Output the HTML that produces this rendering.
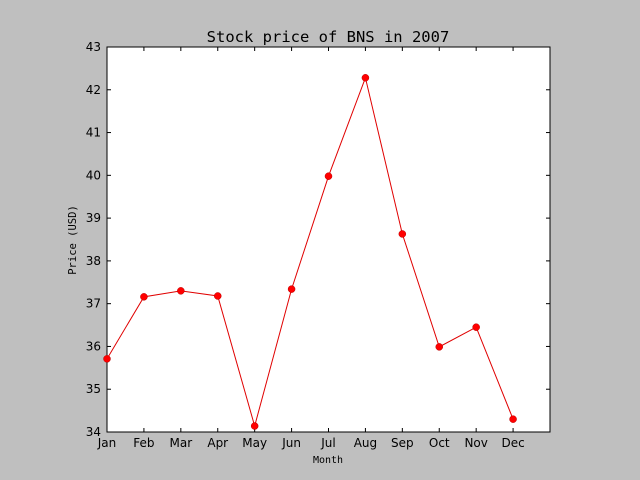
<!DOCTYPE html>
<html><head><meta charset="utf-8"><style>
body{margin:0;background:#bfbfbf;}
svg{display:block;}
</style></head><body>
<svg id="chart" width="640" height="480">
<rect x="0" y="0" width="640" height="480" fill="#bfbfbf"/>
<rect x="107" y="47" width="443" height="385" fill="#fff" stroke="#000" stroke-width="1"/>
<text x="328" y="42" text-anchor="middle" font-family="DejaVu Sans Mono, Liberation Mono, monospace" font-size="15.5">Stock price of BNS in 2007</text>
<text x="328" y="463" text-anchor="middle" font-family="DejaVu Sans Mono, Liberation Mono, monospace" font-size="10">Month</text>
<text transform="translate(76,240) rotate(-90)" text-anchor="middle" font-family="DejaVu Sans Mono, Liberation Mono, monospace" font-size="10.5">Price (USD)</text>
<g id="axes"></g>
<g id="series"></g>
</svg>
<script>
const months=["Jan","Feb","Mar","Apr","May","Jun","Jul","Aug","Sep","Oct","Nov","Dec"];
const prices=[35.71,37.16,37.30,37.18,34.14,37.34,39.98,42.28,38.63,35.99,36.45,34.30];
const yTicks=[34,35,36,37,38,39,40,41,42,43];
const X0=107,X1=550,Y0=432,Y1=47,XMIN=0,XMAX=12,YMIN=34,YMAX=43;
const xs=i=>X0+(i-XMIN)/(XMAX-XMIN)*(X1-X0);
const ys=v=>Y0-(v-YMIN)/(YMAX-YMIN)*(Y0-Y1);
const NS="http://www.w3.org/2000/svg";
const ax=document.getElementById('axes'),se=document.getElementById('series');
function mk(t,a,p){const e=document.createElementNS(NS,t);for(const k in a)e.setAttribute(k,a[k]);p.appendChild(e);return e;}
months.forEach((m,i)=>{
 const x=xs(i);
 const t1=mk('line',{x1:x,x2:x,y1:Y0,y2:Y0-4,stroke:'#000'},ax);
 
 
 const t2=mk('line',{x1:x,x2:x,y1:Y1,y2:Y1+4,stroke:'#000'},ax);
 
 
 const l=mk('text',{x:x,y:Y0+15,'text-anchor':'middle','font-family':'DejaVu Sans, Liberation Sans, sans-serif','font-size':'12'},ax);
 l.textContent=m;
 
 
});
yTicks.forEach(v=>{
 const y=ys(v);
 const t1=mk('line',{x1:X0,x2:X0+4,y1:y,y2:y,stroke:'#000'},ax);
 
 
 const t2=mk('line',{x1:X1,x2:X1-4,y1:y,y2:y,stroke:'#000'},ax);
 
 
 const l=mk('text',{x:X0-6,y:y+4,'text-anchor':'end','font-family':'DejaVu Sans, Liberation Sans, sans-serif','font-size':'12'},ax);
 l.textContent=v;
 
 
});
const pl=mk('polyline',{points:prices.map((v,i)=>xs(i)+','+ys(v)).join(' '),fill:'none',stroke:'#e00000','stroke-width':1},se);


prices.forEach((v,i)=>{
 const c=mk('circle',{cx:xs(i),cy:ys(v),r:3.5,fill:'#f00',stroke:'#b00','stroke-width':0.5},se);
 
 
});
</script>
</body></html>
